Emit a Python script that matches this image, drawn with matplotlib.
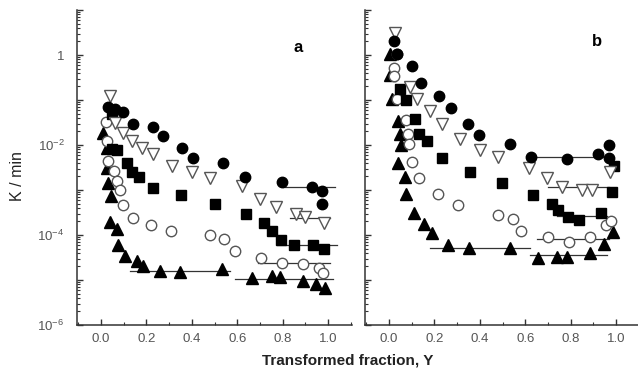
import numpy as np
import matplotlib.pyplot as plt
from matplotlib.ticker import LogLocator, FuncFormatter, MultipleLocator, NullFormatter

plt.rcParams['font.family'] = ['Liberation Sans', 'DejaVu Sans']
plt.rcParams['mathtext.default'] = 'regular'

# ---- panel a : transformed fraction Y vs log10(K / min) ----
a_fcirc_x = [0.031, 0.062, 0.097, 0.141, 0.229, 0.273, 0.357, 0.405, 0.537, 0.634, 0.797, 0.930, 0.974, 0.974]
a_fcirc_y = [-1.15, -1.19, -1.26, -1.53, -1.59, -1.79, -2.06, -2.28, -2.41, -2.72, -2.83, -2.94, -3.03, -3.30]

a_otri_x = [0.040, 0.062, 0.097, 0.137, 0.181, 0.229, 0.313, 0.401, 0.480, 0.621, 0.700, 0.771, 0.859, 0.899, 0.982]
a_otri_y = [-0.91, -1.50, -1.73, -1.90, -2.06, -2.21, -2.46, -2.61, -2.74, -2.92, -3.21, -3.38, -3.54, -3.61, -3.74]

a_fsq_x = [0.048, 0.048, 0.070, 0.115, 0.137, 0.167, 0.229, 0.352, 0.502, 0.639, 0.718, 0.753, 0.793, 0.850, 0.934, 0.982]
a_fsq_y = [-1.31, -2.08, -2.12, -2.39, -2.61, -2.72, -2.96, -3.12, -3.32, -3.54, -3.74, -3.92, -4.12, -4.23, -4.23, -4.31]

a_ocirc_x = [0.022, 0.026, 0.031, 0.057, 0.070, 0.084, 0.097, 0.141, 0.220, 0.308, 0.480, 0.542, 0.590, 0.705, 0.797, 0.890, 0.960, 0.978]
a_ocirc_y = [-1.48, -1.90, -2.35, -2.57, -2.79, -3.01, -3.34, -3.63, -3.78, -3.92, -4.00, -4.09, -4.36, -4.51, -4.62, -4.65, -4.73, -4.85]

a_ftri_x = [0.009, 0.026, 0.026, 0.031, 0.044, 0.040, 0.070, 0.075, 0.106, 0.159, 0.185, 0.260, 0.348, 0.533, 0.665, 0.753, 0.789, 0.890, 0.947, 0.987]
a_ftri_y = [-1.73, -2.06, -2.52, -2.85, -3.14, -3.72, -3.87, -4.23, -4.47, -4.58, -4.69, -4.80, -4.82, -4.76, -4.96, -4.91, -4.93, -5.02, -5.09, -5.18]

# plateau segments (x start, x end, log10 K)
a_lines = [(0.80, 1.03, -2.94), (0.83, 1.01, -3.63), (0.775, 1.04, -4.23),
           (0.69, 1.01, -4.62), (0.128, 0.568, -4.80), (0.59, 1.02, -4.98)]

# ---- panel b ----
b_fcirc_x = [0.022, 0.035, 0.101, 0.140, 0.219, 0.272, 0.346, 0.395, 0.531, 0.627, 0.785, 0.921, 0.969, 0.969]
b_fcirc_y = [0.31, 0.02, -0.24, -0.62, -0.91, -1.17, -1.53, -1.77, -1.97, -2.26, -2.32, -2.19, -1.99, -2.28]

b_otri_x = [0.026, 0.092, 0.123, 0.180, 0.232, 0.311, 0.399, 0.478, 0.618, 0.697, 0.763, 0.851, 0.895, 0.974]
b_otri_y = [0.49, -0.71, -0.97, -1.24, -1.53, -1.86, -2.10, -2.26, -2.50, -2.74, -2.94, -3.01, -3.01, -2.61]

b_fsq_x = [0.048, 0.075, 0.114, 0.132, 0.167, 0.232, 0.355, 0.496, 0.632, 0.719, 0.746, 0.789, 0.838, 0.934, 0.982, 0.991]
b_fsq_y = [-0.75, -1.00, -1.42, -1.75, -1.90, -2.28, -2.59, -2.85, -3.12, -3.30, -3.45, -3.61, -3.67, -3.50, -3.05, -2.46]

b_ocirc_x = [0.035, 0.022, 0.022, 0.035, 0.075, 0.083, 0.088, 0.101, 0.132, 0.215, 0.303, 0.478, 0.544, 0.583, 0.702, 0.794, 0.886, 0.956, 0.978]
b_ocirc_y = [0.02, -0.29, -0.46, -0.97, -1.44, -1.75, -1.97, -2.37, -2.74, -3.08, -3.34, -3.56, -3.65, -3.92, -4.05, -4.16, -4.05, -3.78, -3.69]

b_ftri_x = [0.004, 0.004, 0.013, 0.040, 0.048, 0.053, 0.040, 0.070, 0.075, 0.110, 0.154, 0.189, 0.259, 0.351, 0.535, 0.658, 0.741, 0.785, 0.886, 0.947, 0.987]
b_ftri_y = [0.02, -0.44, -0.97, -1.46, -1.75, -1.99, -2.39, -2.72, -3.08, -3.50, -3.76, -3.96, -4.23, -4.29, -4.29, -4.51, -4.49, -4.49, -4.40, -4.20, -3.94]

b_lines = [(0.61, 0.95, -2.26), (0.70, 0.97, -2.94), (0.74, 0.96, -3.58),
           (0.65, 0.97, -4.09), (0.18, 0.62, -4.29), (0.62, 0.96, -4.45)]

GREY = '#555555'


def ylab(v, pos):
    e = int(round(np.log10(v)))
    if e % 2 != 0 or e > 0:
        return ''
    if e == 0:
        return '1'
    return r'$10^{%d}$' % e


def draw_panel(ax, series, lines, letter, letter_xy, show_ylabels):
    for x0, x1, v in lines:
        ax.plot([x0, x1], [10 ** v, 10 ** v], color='#333333', lw=0.9, zorder=2)
    for x, y, m, ms, filled in series:
        if filled:
            ax.plot(x, 10 ** np.array(y), ls='none', marker=m, ms=ms,
                    mfc='black', mec='black', zorder=3)
        else:
            ax.plot(x, 10 ** np.array(y), ls='none', marker=m, ms=ms,
                    mfc='white', mec=GREY, mew=1.0, zorder=3)

    ax.set_yscale('log')
    ax.set_ylim(1e-6, 10)
    ax.set_xlim(-0.105, 1.105)
    for s in ['top', 'right']:
        ax.spines[s].set_visible(False)
    for s in ['left', 'bottom']:
        ax.spines[s].set_color('#333333')
        ax.spines[s].set_linewidth(1.1)

    ax.yaxis.set_major_locator(LogLocator(base=10, numticks=20))
    ax.yaxis.set_minor_locator(LogLocator(base=10, subs=np.arange(2, 10), numticks=20))
    ax.yaxis.set_minor_formatter(NullFormatter())
    if show_ylabels:
        ax.yaxis.set_major_formatter(FuncFormatter(ylab))
    else:
        ax.yaxis.set_major_formatter(NullFormatter())

    ax.xaxis.set_major_locator(MultipleLocator(0.2))
    ax.xaxis.set_minor_locator(MultipleLocator(0.1))
    ax.xaxis.set_major_formatter(FuncFormatter(lambda v, p: '%.1f' % v))

    ax.tick_params(axis='both', which='major', direction='in', length=4.5,
                   width=1.0, color='#333333', labelsize=9.5, labelcolor=GREY)
    ax.tick_params(axis='both', which='minor', direction='in', length=2.5,
                   width=0.8, color='#333333')
    ax.tick_params(axis='x', which='major', pad=6)
    ax.tick_params(axis='y', which='major', pad=9)

    ax.text(letter_xy[0], letter_xy[1], letter, transform=ax.transAxes,
            fontsize=12, fontweight='bold', ha='center', va='center')


fig = plt.figure(figsize=(6.38, 3.76), dpi=100)
ax_a = fig.add_axes([77 / 638, 51 / 376, 275 / 638, 315 / 376])
ax_b = fig.add_axes([365 / 638, 51 / 376, 275 / 638, 315 / 376])

series_a = [
    (a_ftri_x, a_ftri_y, '^', 8, True),
    (a_ocirc_x, a_ocirc_y, 'o', 7.5, False),
    (a_fsq_x, a_fsq_y, 's', 6.5, True),
    (a_otri_x, a_otri_y, 'v', 8, False),
    (a_fcirc_x, a_fcirc_y, 'o', 7.5, True),
]
series_b = [
    (b_ftri_x, b_ftri_y, '^', 8, True),
    (b_ocirc_x, b_ocirc_y, 'o', 7.5, False),
    (b_fsq_x, b_fsq_y, 's', 6.5, True),
    (b_otri_x, b_otri_y, 'v', 8, False),
    (b_fcirc_x, b_fcirc_y, 'o', 7.5, True),
]

draw_panel(ax_a, series_a, a_lines, 'a', ((298 - 77) / 275, (376 - 47 - 51) / 315), True)
draw_panel(ax_b, series_b, b_lines, 'b', ((597 - 365) / 275, (376 - 42 - 51) / 315), False)

fig.text(0.028, 0.532, 'K / min', rotation=90, fontsize=11.5,
         ha='center', va='center', color='#222222')
fig.text(0.545, 0.04, 'Transformed fraction, Y', fontsize=11, fontweight='bold',
         ha='center', va='center', color='#222222')

fig.savefig('out.png', dpi=100)
